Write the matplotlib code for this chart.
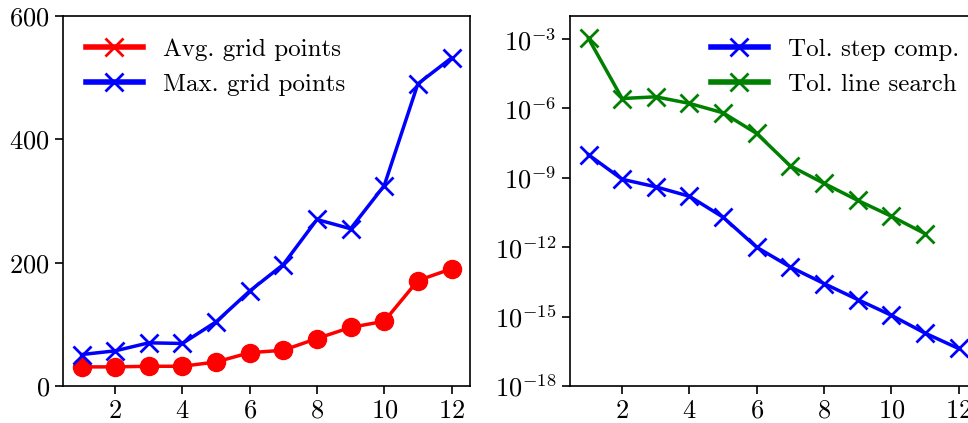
import matplotlib
matplotlib.use("Agg")
import matplotlib.pyplot as plt
from matplotlib.lines import Line2D
from matplotlib.ticker import NullLocator

# datos
iters = [1, 2, 3, 4, 5, 6, 7, 8, 9, 10, 11, 12]
avg_grid = [31, 31, 32, 32, 39, 54, 58, 77, 95, 105, 171, 190]
max_grid = [51, 57, 70, 69, 104, 154, 197, 270, 255, 325, 490, 532]

iters_green = [1, 2, 3, 4, 5, 6, 7, 8, 9, 10, 11]
tol_step = [1.0e-8, 8.7e-10, 4.1e-10, 1.6e-10, 2.0e-11, 1.0e-12, 1.4e-13, 2.7e-14,
            5.5e-15, 1.15e-15, 1.95e-16, 4.2e-17]
tol_line = [1.07e-3, 2.7e-6, 3.2e-6, 1.66e-6, 6.5e-7, 8.3e-8, 3.3e-9, 5.8e-10,
            1.07e-10, 2.2e-11, 3.9e-12]

plt.rcParams["font.family"] = "serif"
plt.rcParams["font.serif"] = ["cmr10"]
plt.rcParams["mathtext.fontset"] = "cm"
plt.rcParams["axes.formatter.use_mathtext"] = True
plt.rcParams["font.size"] = 19
plt.rcParams["legend.fontsize"] = 18
plt.rcParams["axes.linewidth"] = 1.2

fig = plt.figure(figsize=(9.68, 4.23), dpi=100)
ax1 = fig.add_axes([63/968, 37/423, 407/968, 370/423])
ax2 = fig.add_axes([570/968, 37/423, 407/968, 370/423])

# izquierda: puntos de malla
ax1.plot(iters, avg_grid, color="red", marker="o", markersize=13, linewidth=2.5)
ax1.plot(iters, max_grid, color="blue", marker="x", markersize=13, markeredgewidth=2, linewidth=2.5)
ax1.set_ylim(0, 600)
ax1.set_yticks([0, 200, 400, 600])
ax1.set_xticks([2, 4, 6, 8, 10, 12])
handles1 = [Line2D([], [], color="red", marker="x", markersize=13, markeredgewidth=2, linewidth=4),
            Line2D([], [], color="blue", marker="x", markersize=13, markeredgewidth=2, linewidth=4)]
ax1.legend(handles1, ["Avg. grid points", "Max. grid points"], loc="upper left",
           frameon=False, handlelength=2.3)

# derecha: tolerancias
ax2.plot(iters, tol_step, color="blue", marker="x", markersize=13, markeredgewidth=2, linewidth=2.5)
ax2.plot(iters_green, tol_line, color="green", marker="x", markersize=13, markeredgewidth=2, linewidth=2.5)
ax2.set_yscale("log")
ax2.set_ylim(1e-18, 1e-2)
ax2.set_yticks([1e-18, 1e-15, 1e-12, 1e-9, 1e-6, 1e-3])
ax2.yaxis.set_minor_locator(NullLocator())
ax2.set_xticks([2, 4, 6, 8, 10, 12])
handles2 = [Line2D([], [], color="blue", marker="x", markersize=13, markeredgewidth=2, linewidth=4),
            Line2D([], [], color="green", marker="x", markersize=13, markeredgewidth=2, linewidth=4)]
ax2.legend(handles2, ["Tol. step comp.", "Tol. line search"], loc="upper left",
           bbox_to_anchor=(0.29, 1.0), frameon=False, handlelength=2.3)

for ax in (ax1, ax2):
    ax.set_xlim(0.45, 12.55)
    ax.tick_params(length=6, width=1.2)

fig.savefig("out.png", dpi=100)
